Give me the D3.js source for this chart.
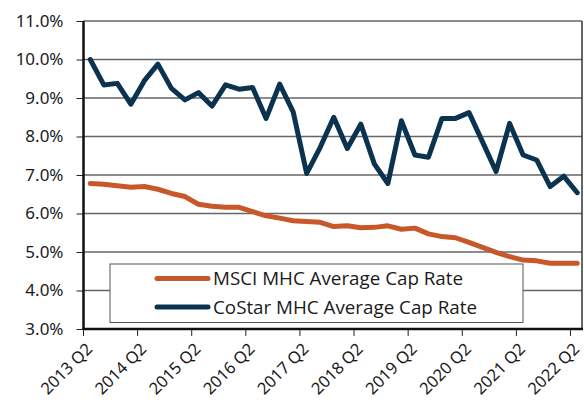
<!DOCTYPE html>
<html>
<head>
<meta charset="utf-8">
<script src="https://cdn.jsdelivr.net/npm/d3@7/dist/d3.min.js"></script>
<style>
  html, body { margin: 0; padding: 0; background: #fff; }
  svg { display: block; }
</style>
</head>
<body>
<svg id="chart" width="584" height="409"></svg>
<script>
const quarters = [];
for (let yr = 2013; yr <= 2022; yr++) {
  for (const q of ["Q1", "Q2", "Q3", "Q4"]) {
    if ((yr === 2013 && q === "Q1") || (yr === 2022 && (q === "Q3" || q === "Q4"))) continue;
    quarters.push(yr + " " + q);
  }
}
const tickLabels = ["2013 Q2","2014 Q2","2015 Q2","2016 Q2","2017 Q2","2018 Q2","2019 Q2","2020 Q2","2021 Q2","2022 Q2"];
const yTicks = [3, 4, 5, 6, 7, 8, 9, 10, 11];

const msci = [6.78, 6.76, 6.72, 6.68, 6.70, 6.63, 6.52, 6.44, 6.24, 6.19,
              6.16, 6.16, 6.05, 5.94, 5.88, 5.81, 5.79, 5.77, 5.66, 5.68,
              5.63, 5.64, 5.68, 5.59, 5.62, 5.47, 5.40, 5.37, 5.25, 5.12,
              4.99, 4.88, 4.79, 4.77, 4.71, 4.71, 4.71];
const costar = [10.00, 9.34, 9.38, 8.84, 9.45, 9.88, 9.25, 8.95, 9.14, 8.79,
                9.34, 9.23, 9.27, 8.47, 9.36, 8.64, 7.04, 7.72, 8.50, 7.69,
                8.32, 7.29, 6.78, 8.41, 7.52, 7.46, 8.47, 8.47, 8.62, 7.86,
                7.09, 8.34, 7.52, 7.39, 6.70, 6.97, 6.54];

const seriesNames = ["MSCI MHC Average Cap Rate", "CoStar MHC Average Cap Rate"];
const colors = ["#C8582A", "#0B3350"];

const svg = d3.select("#chart");
const pL = 83.5, pR = 584, pT = 21, pB = 329;

const x = d3.scaleBand().domain(quarters).range([pL, pR]).paddingInner(0).paddingOuter(0);
const y = d3.scaleLinear().domain([3, 11]).range([pB, pT]);
const cx = d => x(d) + x.bandwidth() / 2;

// gridlines
svg.append("g").selectAll("line").data(yTicks).join("line")
  .attr("x1", pL).attr("x2", 582)
  .attr("y1", d => y(d)).attr("y2", d => y(d))
  .attr("stroke", "#666").attr("stroke-width", 1.3);

// right border
svg.append("line").attr("x1", 582).attr("x2", 582).attr("y1", y(11)).attr("y2", pB)
  .attr("stroke", "#333").attr("stroke-width", 1.5);

// y axis
const yAxis = d3.axisLeft(y).tickValues(yTicks).tickSize(7).tickPadding(13)
  .tickFormat(d => d.toFixed(1) + "%");
const gy = svg.append("g").attr("transform", `translate(${pL},0)`).call(yAxis);
gy.select(".domain").remove();
gy.selectAll(".tick line").attr("stroke", "#222").attr("stroke-width", 1);
gy.selectAll("text").attr("font-family", "'Noto Sans', sans-serif").attr("font-size", 17).attr("fill", "#1a1a1a");

// x axis ticks at category boundaries every 4 quarters
const tickIdx = [0, 4, 8, 12, 16, 20, 24, 28, 32, 36];
svg.append("g").selectAll("line").data(tickIdx).join("line")
  .attr("x1", i => x(quarters[i])).attr("x2", i => x(quarters[i]))
  .attr("y1", pB).attr("y2", pB + 7)
  .attr("stroke", "#222").attr("stroke-width", 1);

svg.append("g").selectAll("text").data(tickLabels).join("text")
  .attr("transform", d => `translate(${cx(d) - 1},${pB + 17}) rotate(-45)`)
  .attr("text-anchor", "end")
  .attr("dy", "0.35em")
  .attr("font-family", "'Noto Sans', sans-serif").attr("font-size", 16.5).attr("fill", "#1a1a1a")
  .text(d => d);

// lines
const line = d3.line().x((d, i) => cx(quarters[i])).y(d => y(d)).curve(d3.curveLinear);
[msci, costar].forEach((s, k) => {
  svg.append("path").datum(s).attr("d", line)
    .attr("fill", "none").attr("stroke", colors[k]).attr("stroke-width", 5)
    .attr("stroke-linejoin", "round").attr("stroke-linecap", "round");
});

// axis lines
svg.append("line").attr("x1", pL).attr("x2", pL).attr("y1", pT).attr("y2", pB + 1)
  .attr("stroke", "#111").attr("stroke-width", 2.5);
svg.append("line").attr("x1", pL - 1).attr("x2", 583).attr("y1", pB).attr("y2", pB)
  .attr("stroke", "#111").attr("stroke-width", 2.5);

// legend
const lg = svg.append("g");
lg.append("rect").attr("x", 110).attr("y", 264).attr("width", 413).attr("height", 58.5)
  .attr("fill", "#fff").attr("stroke", "#555").attr("stroke-width", 1);
seriesNames.forEach((n, k) => {
  const ly = 278.5 + k * 28.5;
  lg.append("line").attr("x1", 157).attr("x2", 208).attr("y1", ly).attr("y2", ly)
    .attr("stroke", colors[k]).attr("stroke-width", 5).attr("stroke-linecap", "round");
  lg.append("text").attr("x", 213).attr("y", ly).attr("dy", "0.36em")
    .attr("font-family", "'Open Sans', sans-serif").attr("font-size", 18.8).attr("fill", "#1a1a1a")
    .text(n);
});
</script>
</body>
</html>
